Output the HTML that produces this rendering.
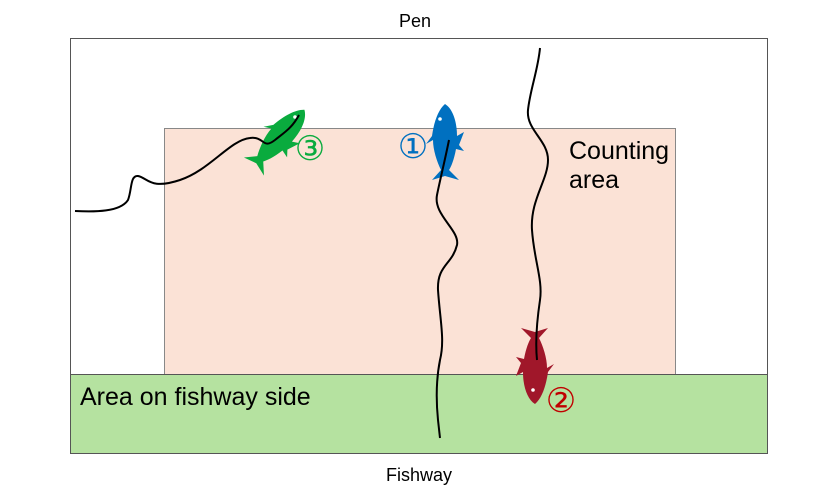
<!DOCTYPE html>
<html><head><style>body{margin:0;background:#fff}</style></head><body>
<svg width="838" height="500" xmlns="http://www.w3.org/2000/svg" style="display:block">
<defs>
<path id="fish" d="M0,-38 C8,-33 12,-20 12,-6 L19,-10 L14,3 L19,9 L11,7 C9,18 6,25 4,28 L14,38 L0,34 L-13,38 L-4,28 C-8,20 -12,8 -12,-2 L-19,2 L-13,-6 C-11,-20 -7,-32 0,-38 Z"/>
</defs>
<rect x="70.5" y="38.5" width="697" height="415" fill="#fff" stroke="#555" stroke-width="1"/>
<rect x="164.5" y="128.5" width="511" height="246" fill="#fbe2d6" stroke="#888" stroke-width="1"/>
<rect x="70.5" y="374.5" width="697" height="79" fill="#b5e2a0" stroke="#555" stroke-width="1"/>
<text x="415" y="27" font-family="Liberation Sans, sans-serif" font-size="18" text-anchor="middle">Pen</text>
<text x="419" y="481" font-family="Liberation Sans, sans-serif" font-size="18" text-anchor="middle">Fishway</text>
<text x="569" y="159" font-family="Liberation Sans, sans-serif" font-size="25">Counting</text>
<text x="569" y="188" font-family="Liberation Sans, sans-serif" font-size="25">area</text>
<text x="80" y="405" font-family="Liberation Sans, sans-serif" font-size="25">Area on fishway side</text>
<use href="#fish" fill="#0070c0" transform="translate(445,142)"/>
<use href="#fish" fill="#a0172a" transform="translate(535,366) rotate(180)"/>
<use href="#fish" fill="#0aab3e" transform="translate(279,138) rotate(42)"/>
<g fill="#fff"><circle cx="440" cy="119" r="1.8"/><circle cx="533" cy="390" r="1.8"/><circle cx="295" cy="117" r="1.8"/></g>
<g fill="none" stroke="#000" stroke-width="2">
<path d="M75,211 C95,212 120,212 128,200 C132,190 130,175 138,176 C148,178 150,190 180,180 C210,170 230,140 250,138 C265,136 262,150 275,140 C285,132 292,128 299,115"/>
<path d="M449,140 C445,160 440,180 437,195 C433,215 460,230 457,245 C452,265 437,265 438,290 C440,320 445,340 440,360 C436,380 436,400 438,420 L440,438"/>
<path d="M540,48 C538,70 530,90 528,110 C526,130 548,140 548,160 C548,180 530,200 532,230 C534,260 543,280 540,300 C537,320 535,340 537,360"/>
</g>
<g font-family="Liberation Sans, DejaVu Sans, sans-serif" font-size="34" text-anchor="middle">
<text x="413" y="158" fill="#0070c0">①</text>
<text x="561" y="412" fill="#c00000">②</text>
<text x="310" y="160" fill="#0aab3e">③</text>
</g>
</svg>
</body></html>
